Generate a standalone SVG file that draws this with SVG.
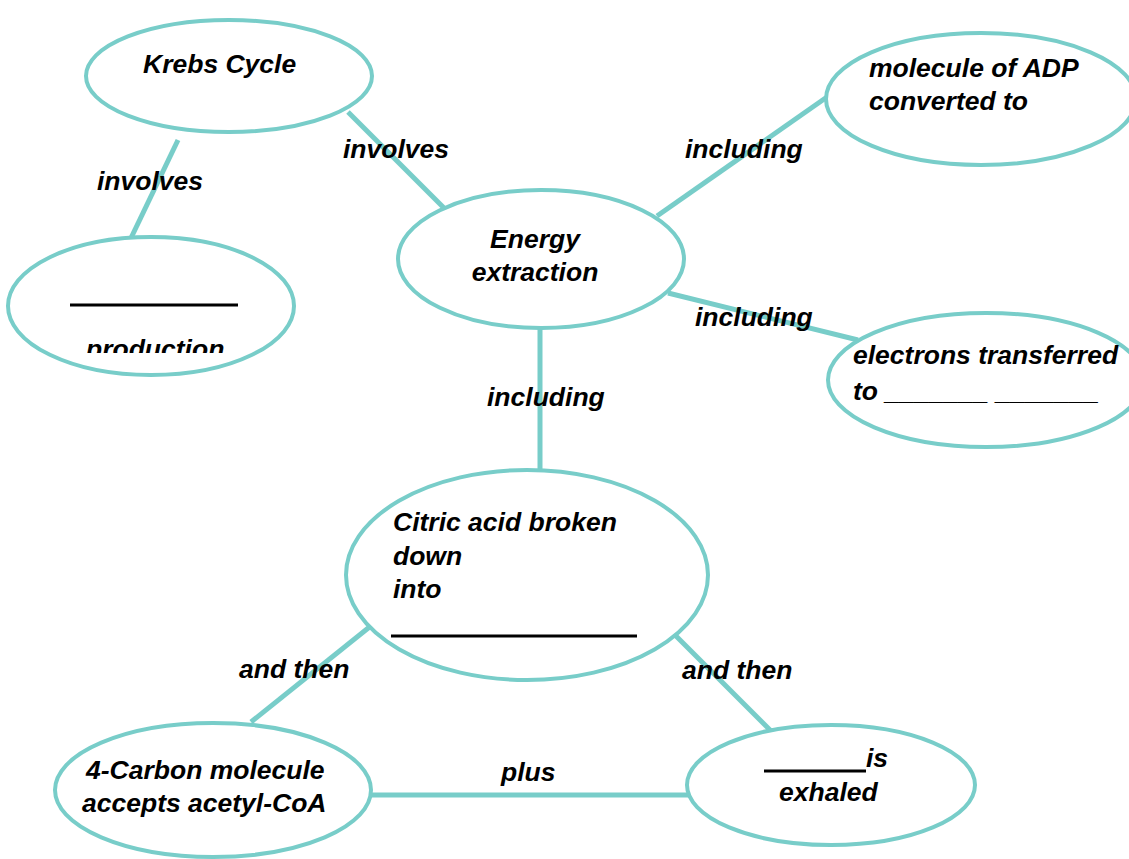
<svg xmlns="http://www.w3.org/2000/svg" width="1129" height="859" viewBox="0 0 1129 859">
<style>
.n{fill:#fff;stroke:#78CDC9;stroke-width:4}
.c line{stroke:#78CDC9;stroke-width:5}
text{font-family:"Liberation Sans",Arial,sans-serif;font-weight:bold;font-style:italic;font-size:26.5px;fill:#000}
.u{stroke:#000;stroke-width:3}
</style>
<defs>
<clipPath id="cp"><rect x="0" y="0" width="1129" height="353"/></clipPath>
</defs>
<rect width="1129" height="859" fill="#fff"/>
<g class="c" id="connectors">
<line x1="348" y1="112" x2="446" y2="210"/>
<line x1="178" y1="140" x2="131" y2="238"/>
<line x1="657" y1="216" x2="827" y2="97"/>
<line x1="668" y1="293" x2="858" y2="340"/>
<line x1="540" y1="328" x2="540" y2="474"/>
<line x1="372" y1="625" x2="251" y2="722"/>
<line x1="673" y1="633" x2="771" y2="731"/>
<line x1="372" y1="795" x2="689" y2="795"/>
</g>
<g id="labels">
<text x="343" y="158">involves</text>
<text x="97" y="190">involves</text>
<text x="685" y="158">including</text>
<text x="695" y="326">including</text>
<text x="487" y="406">including</text>
<text x="239" y="678">and then</text>
<text x="682" y="679">and then</text>
<text x="501" y="781">plus</text>
</g>
<g id="krebs">
<ellipse class="n" cx="229" cy="76" rx="143" ry="56"/>
<text x="143" y="73">Krebs Cycle</text>
</g>
<g id="production">
<ellipse class="n" cx="151" cy="306" rx="143" ry="69"/>
<line class="u" x1="70" y1="305" x2="238" y2="305"/>
<text x="86" y="358" clip-path="url(#cp)">production</text>
</g>
<g id="energy">
<ellipse class="n" cx="541" cy="259" rx="143" ry="69"/>
<text x="535" y="248" text-anchor="middle">Energy</text>
<text x="535" y="281" text-anchor="middle">extraction</text>
</g>
<g id="adp">
<ellipse class="n" cx="981" cy="99" rx="155" ry="66"/>
<text x="869" y="77">molecule of ADP</text>
<text x="869" y="110">converted to</text>
</g>
<g id="electrons">
<ellipse class="n" cx="986" cy="380" rx="158" ry="67"/>
<text x="853" y="364">electrons transferred</text>
<text x="853" y="400">to _______ _______</text>
</g>
<g id="citric">
<ellipse class="n" cx="527" cy="575" rx="181" ry="105"/>
<text x="393" y="531">Citric acid broken</text>
<text x="393" y="565">down</text>
<text x="393" y="598">into</text>
<line class="u" x1="391" y1="636" x2="637" y2="636"/>
</g>
<g id="carbon4">
<ellipse class="n" cx="213" cy="790" rx="158" ry="67"/>
<text x="86" y="779">4-Carbon molecule</text>
<text x="82" y="812">accepts acetyl-CoA</text>
</g>
<g id="exhaled">
<ellipse class="n" cx="831" cy="785" rx="144" ry="60"/>
<line class="u" x1="764" y1="771" x2="866" y2="771"/>
<text x="866" y="767">is</text>
<text x="779" y="801">exhaled</text>
</g>
</svg>
